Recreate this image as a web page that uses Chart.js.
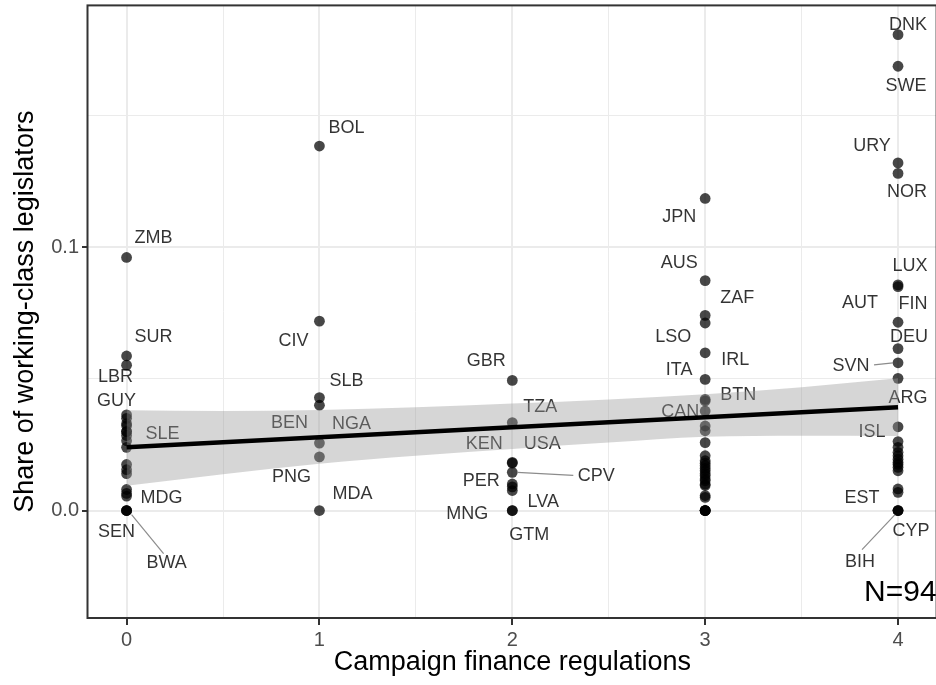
<!DOCTYPE html>
<html>
<head>
<meta charset="utf-8">
<script src="https://cdn.jsdelivr.net/npm/chart.js@4.4.1/dist/chart.umd.min.js"></script>
<style>
  html, body { margin: 0; padding: 0; background: #ffffff; overflow: hidden; }
  #wrap { width: 942px; height: 685px; }
</style>
</head>
<body>
<div id="wrap"><canvas id="c" width="942" height="685"></canvas></div>
<script>
// ---------- DATA ----------
const codes = [
  // campaign finance = 0
  'ZMB','SUR','LBR','GUY','','','','SLE','','','','','','','','','MDG','SEN','BWA','','',
  // = 1
  'BOL','CIV','SLB','BEN','NGA','PNG','MDA',
  // = 2
  'GBR','TZA','KEN','USA','CPV','PER','','LVA','MNG','GTM',
  // = 3
  'JPN','AUS','ZAF','LSO','IRL','ITA','BTN','','CAN','','','','','','','','','','','','','','','','','','','','','','',
  // = 4
  'DNK','SWE','URY','NOR','LUX','FIN','AUT','DEU','SVN','ARG','ISL','','','','','','','','','','EST','','CYP','BIH',''
];
const campaign = [
  0,0,0,0,0,0,0,0,0,0,0,0,0,0,0,0,0,0,0,0,0,
  1,1,1,1,1,1,1,
  2,2,2,2,2,2,2,2,2,2,
  3,3,3,3,3,3,3,3,3,3,3,3,3,3,3,3,3,3,3,3,3,3,3,3,3,3,3,3,3,3,3,
  4,4,4,4,4,4,4,4,4,4,4,4,4,4,4,4,4,4,4,4,4,4,4,4,4
];
const share = [
  0.0961,0.0587,0.0552,0.0363,0.0350,0.0330,0.0322,0.0300,0.0285,0.0265,0.0240,0.0175,0.0155,0.0140,0.0080,0.0065,0.0055,0,0,0,0.0300,
  0.1384,0.0719,0.0429,0.0400,0.0256,0.0204,0,
  0.0494,0.0334,0.0183,0.0180,0.0145,0.0101,0.0090,0.0076,0,0,
  0.1185,0.0873,0.0741,0.0712,0.0599,0.0498,0.0422,0.0416,0.0378,0.0321,0.0303,0.0258,0.0208,0.0189,0.0180,0.0170,0.0160,0.0151,0.0140,0.0132,0.0120,0.0113,0.0100,0.0095,0.0057,0.0050,0,0,0,0,0,
  0.1807,0.1687,0.1320,0.1280,0.0857,0.0850,0.0715,0.0615,0.0561,0.0502,0.0318,0.0262,0.0240,0.0221,0.0208,0.0195,0.0183,0.0175,0.0164,0.0151,0.0082,0.0069,0,0,0
];
// linear fit and its confidence band, read at these x positions
const fitX  = [0, 4];
const fitY  = [0.0240, 0.0392];
const bandX  = [0, 0.5, 1, 1.5, 2, 2.5, 3, 3.5, 4];
const bandHi = [0.0381, 0.0378, 0.0382, 0.0392, 0.0406, 0.0422, 0.0442, 0.0468, 0.0502];
const bandLo = [0.0094, 0.0138, 0.0178, 0.0208, 0.0234, 0.0258, 0.0280, 0.0284, 0.0283];
const xMajor = [0, 1, 2, 3, 4];
const xMinor = [0.5, 1.5, 2.5, 3.5];
const yMajor = [0, 0.1];
const yMinor = [0.05, 0.15];
const nLabel = 'N=94';

// ---------- LAYOUT of repelled labels (pixel offsets from the point) ----------
const labelLayout = {
  ZMB:{dx:27,dy:-19}, SUR:{dx:27,dy:-19}, LBR:{dx:-11,dy:12}, GUY:{dx:-10,dy:-14},
  SLE:{dx:36,dy:2}, MDG:{dx:35,dy:2}, SEN:{dx:-10,dy:21},
  BWA:{dx:40,dy:52,seg:[5,4,37,43]},
  BOL:{dx:27,dy:-18}, CIV:{dx:-26,dy:20}, SLB:{dx:27,dy:-17}, BEN:{dx:-30,dy:18},
  NGA:{dx:32,dy:-19}, PNG:{dx:-28,dy:20}, MDA:{dx:33,dy:-17},
  GBR:{dx:-26,dy:-19}, TZA:{dx:28,dy:-16}, KEN:{dx:-28,dy:-18}, USA:{dx:30,dy:-19},
  CPV:{dx:84,dy:4,seg:[5,0,61,3]}, PER:{dx:-31,dy:-3}, LVA:{dx:31,dy:12},
  MNG:{dx:-45,dy:3}, GTM:{dx:17,dy:24},
  JPN:{dx:-26,dy:19}, AUS:{dx:-26,dy:-18}, ZAF:{dx:32,dy:-17}, LSO:{dx:-32,dy:14},
  IRL:{dx:30,dy:7}, ITA:{dx:-26,dy:-9}, BTN:{dx:33,dy:-4}, CAN:{dx:-25,dy:1},
  DNK:{dx:10,dy:-10}, SWE:{dx:8,dy:20}, URY:{dx:-26,dy:-17}, NOR:{dx:9,dy:19},
  LUX:{dx:12,dy:-19}, FIN:{dx:15,dy:17}, AUT:{dx:-38,dy:-19}, DEU:{dx:11,dy:-12},
  SVN:{dx:-47,dy:3,seg:[-24,2,-5,0]}, ARG:{dx:10,dy:20}, ISL:{dx:-26,dy:5},
  EST:{dx:-36,dy:9}, CYP:{dx:13,dy:20}, BIH:{dx:-38,dy:51,seg:[-36,39,-3,4]}
};

const FONT = '"Liberation Sans", Arial, Helvetica, sans-serif';

const points = campaign.map((v, i) => ({x: v, y: share[i]}));
const fitPts = fitX.map((v, i) => ({x: v, y: fitY[i]}));
const hiPts = bandX.map((v, i) => ({x: v, y: bandHi[i]}));
const loPts = bandX.map((v, i) => ({x: v, y: bandLo[i]}));

const labelPlugin = {
  id: 'repelLabels',
  afterDatasetDraw(chart, args) {
    if (args.index !== 0) return;
    const {ctx, scales: {x, y}} = chart;
    ctx.save();
    ctx.font = '18px ' + FONT;
    ctx.textAlign = 'center';
    ctx.textBaseline = 'middle';
    codes.forEach((c, i) => {
      if (!c) return;
      const L = labelLayout[c];
      if (!L) return;
      const px = x.getPixelForValue(campaign[i]);
      const py = y.getPixelForValue(share[i]);
      if (L.seg) {
        ctx.strokeStyle = '#8c8c8c';
        ctx.lineWidth = 1.2;
        ctx.beginPath();
        ctx.moveTo(px + L.seg[0], py + L.seg[1]);
        ctx.lineTo(px + L.seg[2], py + L.seg[3]);
        ctx.stroke();
      }
      ctx.fillStyle = 'rgba(0,0,0,0.8)';
      ctx.fillText(c, px + L.dx, py + L.dy);
    });
    ctx.restore();
  }
};

const framePlugin = {
  id: 'frame',
  afterDraw(chart) {
    const {ctx, chartArea: a, scales: {x, y}} = chart;
    ctx.save();
    ctx.font = '30px ' + FONT;
    ctx.fillStyle = '#000';
    ctx.textAlign = 'right';
    ctx.textBaseline = 'alphabetic';
    ctx.fillText(nLabel, x.getPixelForValue(4.2), y.getPixelForValue(-0.0344));
    ctx.strokeStyle = '#333333';
    ctx.lineWidth = 2;
    ctx.strokeRect(a.left - 0.5, a.top, a.right - a.left + 0.5, a.bottom - a.top);
    ctx.restore();
  }
};

const isMajorX = v => xMajor.some(m => Math.abs(m - v) < 1e-9);
const isMajorY = v => yMajor.some(m => Math.abs(m - v) < 1e-9);

new Chart(document.getElementById('c'), {
  type: 'scatter',
  data: {
    datasets: [
      {
        label: 'countries', data: points, order: 5,
        pointRadius: 5.4, pointHoverRadius: 5.4, pointBorderWidth: 0,
        pointBackgroundColor: 'rgba(0,0,0,0.72)', backgroundColor: 'rgba(0,0,0,0.72)'
      },
      {
        type: 'line', label: 'upper', data: hiPts, order: 3, showLine: true,
        fill: '+1', backgroundColor: 'rgba(153,153,153,0.4)', borderWidth: 0,
        borderColor: 'rgba(0,0,0,0)', pointRadius: 0, tension: 0.4, cubicInterpolationMode: 'monotone'
      },
      {
        type: 'line', label: 'lower', data: loPts, order: 4, showLine: true,
        fill: false, borderWidth: 0, borderColor: 'rgba(0,0,0,0)', pointRadius: 0,
        tension: 0.4, cubicInterpolationMode: 'monotone'
      },
      {
        type: 'line', label: 'fit', data: fitPts, order: 0, showLine: true,
        fill: false, borderColor: '#000000', borderWidth: 4.5, pointRadius: 0
      }
    ]
  },
  options: {
    responsive: false,
    animation: false,
    devicePixelRatio: 1,
    layout: { padding: { top: 3, left: 0, right: 0, bottom: 0 } },
    plugins: { legend: { display: false }, tooltip: { enabled: false } },
    scales: {
      x: {
        type: 'linear', min: -0.2, max: 4.2,
        afterBuildTicks: s => { s.ticks = [...xMajor, ...xMinor].sort((a, b) => a - b).map(v => ({value: v})); },
        afterFit: s => { s.height = 67; s.paddingLeft = 0; s.paddingRight = 0; },
        border: { display: false },
        grid: {
          color: '#ebebeb',
          lineWidth: c => isMajorX(c.tick.value) ? 2 : 1,
          tickColor: c => isMajorX(c.tick.value) ? '#333333' : 'rgba(0,0,0,0)',
          tickWidth: 2, tickLength: 7
        },
        ticks: {
          color: '#4d4d4d', padding: 3, maxRotation: 0, autoSkip: false,
          font: { family: FONT, size: 20 },
          callback: v => isMajorX(v) ? String(v) : ''
        },
        title: {
          display: true, text: 'Campaign finance regulations', color: '#000',
          font: { family: FONT, size: 27 }, padding: { top: 0, bottom: 6 }
        }
      },
      y: {
        type: 'linear', min: -0.0408, max: 0.1918,
        afterBuildTicks: s => { s.ticks = [...yMajor, ...yMinor].sort((a, b) => a - b).map(v => ({value: v})); },
        afterFit: s => { s.width = 88; s.paddingTop = 0; s.paddingBottom = 0; },
        border: { display: false },
        grid: {
          color: '#ebebeb',
          lineWidth: c => isMajorY(c.tick.value) ? 2 : 1,
          tickColor: c => isMajorY(c.tick.value) ? '#333333' : 'rgba(0,0,0,0)',
          tickWidth: 2, tickLength: 6
        },
        ticks: {
          color: '#4d4d4d', padding: 3, autoSkip: false,
          font: { family: FONT, size: 20 },
          callback: v => isMajorY(v) ? v.toFixed(1) : ''
        },
        title: {
          display: true, text: 'Share of working-class legislators', color: '#000',
          font: { family: FONT, size: 27 }, padding: { top: 9, bottom: 0 }
        }
      }
    }
  },
  plugins: [labelPlugin, framePlugin]
});
</script>
</body>
</html>
